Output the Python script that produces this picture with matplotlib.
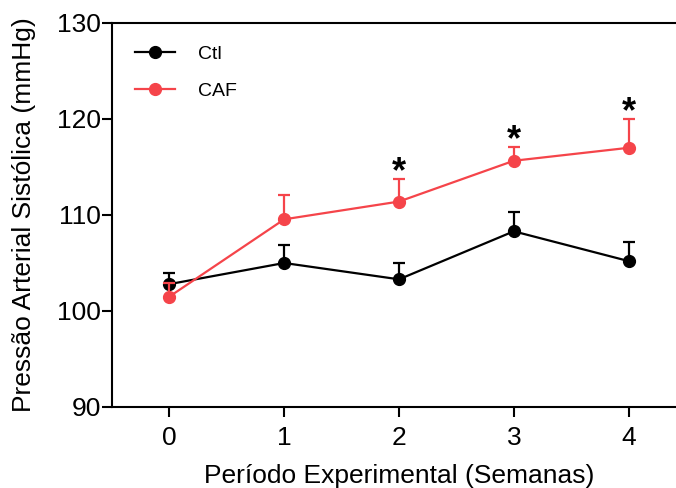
import matplotlib
matplotlib.use("Agg")
import matplotlib.pyplot as plt
from matplotlib.lines import Line2D

plt.rcParams['font.family'] = ['Liberation Sans', 'DejaVu Sans']

weeks = [0, 1, 2, 3, 4]
ctl_mean = [102.8, 105.0, 103.3, 108.3, 105.2]
ctl_err = [1.2, 1.9, 1.7, 2.0, 2.0]
caf_mean = [101.5, 109.55, 111.4, 115.65, 117.0]
caf_err = [1.4, 2.55, 2.4, 1.45, 3.0]
sig_weeks = [2, 3, 4]

black = '#000000'
red = '#F5444A'

fig = plt.figure(figsize=(6.76, 4.88), dpi=100)
ax = fig.add_axes([112/676, 81/488, 574/676, 384/488])

ax.errorbar(weeks, ctl_mean, yerr=[[0]*5, ctl_err], color=black, marker='o',
            markersize=8.5, lw=1.6, elinewidth=1.6, capsize=4, capthick=1.6,
            zorder=3)
ax.errorbar(weeks, caf_mean, yerr=[[0]*5, caf_err], color=red, marker='o',
            markersize=8.5, lw=1.6, elinewidth=1.6, capsize=4, capthick=1.6,
            zorder=4)

for w in sig_weeks:
    i = weeks.index(w)
    ax.text(w, caf_mean[i] + caf_err[i] - 1.2, '*', ha='center', va='bottom',
            fontsize=26, fontweight='bold', color=black)

ax.set_xlim(-0.5, 4.5)
ax.set_ylim(90, 130)
ax.set_xticks(weeks)
ax.set_yticks([90, 100, 110, 120, 130])

for s in ['left', 'bottom', 'top']:
    ax.spines[s].set_linewidth(1.5)
ax.spines['right'].set_visible(False)

ax.tick_params(direction='out', length=7, width=1.5, labelsize=19)
ax.tick_params(axis='y', pad=1)
ax.tick_params(axis='x', pad=7)
ax.set_xlabel('Período Experimental (Semanas)', fontsize=19, labelpad=10)
ax.set_ylabel('Pressão Arterial Sistólica (mmHg)', fontsize=19, labelpad=15)

handles = [Line2D([], [], color=black, marker='o', markersize=8.5, lw=1.6),
           Line2D([], [], color=red, marker='o', markersize=8.5, lw=1.6)]
leg = ax.legend(handles, ['Ctl', 'CAF'], loc='upper left', frameon=False,
                fontsize=14, bbox_to_anchor=(0.009, 0.988), handlelength=2.06,
                handletextpad=1.2, labelspacing=1.0)
for t in leg.get_texts():
    t.set_fontfamily(['Liberation Sans Narrow', 'Liberation Sans'])

fig.savefig('out.png', dpi=100)
